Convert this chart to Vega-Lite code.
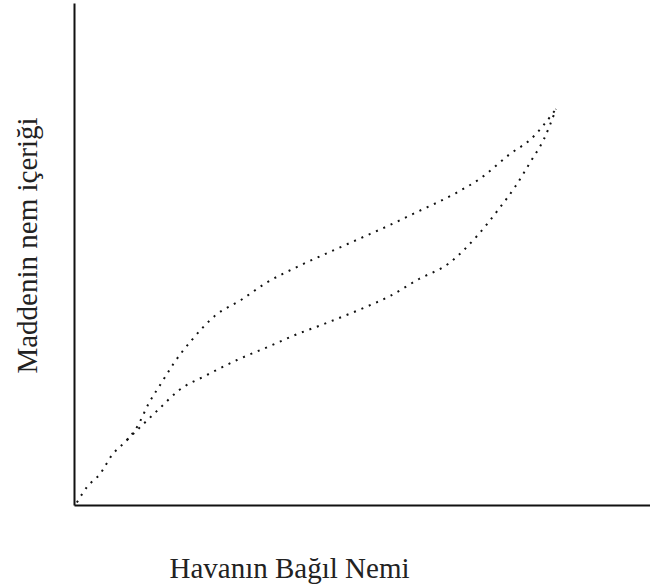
{
  "$schema": "https://vega.github.io/schema/vega-lite/v6.json",
  "width": 576,
  "height": 502,
  "autosize": "none",
  "padding": {"left": 74, "top": 3, "right": 0, "bottom": 82},
  "background": "white",
  "config": {"view": {"stroke": null}},
  "data": {
    "values": [
      {"branch": "upper", "o": 0, "x": 0.5, "y": 0.5},
      {"branch": "upper", "o": 1, "x": 2.26, "y": 3.59},
      {"branch": "upper", "o": 2, "x": 4.51, "y": 6.18},
      {"branch": "upper", "o": 3, "x": 6.6, "y": 9.96},
      {"branch": "upper", "o": 4, "x": 9.2, "y": 12.95},
      {"branch": "upper", "o": 5, "x": 10.94, "y": 15.54},
      {"branch": "upper", "o": 6, "x": 13.02, "y": 20.32},
      {"branch": "upper", "o": 7, "x": 15.28, "y": 24.5},
      {"branch": "upper", "o": 8, "x": 17.36, "y": 28.29},
      {"branch": "upper", "o": 9, "x": 20.31, "y": 32.67},
      {"branch": "upper", "o": 10, "x": 24.65, "y": 37.85},
      {"branch": "upper", "o": 11, "x": 28.99, "y": 40.84},
      {"branch": "upper", "o": 12, "x": 33.33, "y": 44.22},
      {"branch": "upper", "o": 13, "x": 39.06, "y": 47.61},
      {"branch": "upper", "o": 14, "x": 44.79, "y": 50.6},
      {"branch": "upper", "o": 15, "x": 49.83, "y": 53.19},
      {"branch": "upper", "o": 16, "x": 54.86, "y": 55.78},
      {"branch": "upper", "o": 17, "x": 59.2, "y": 58.17},
      {"branch": "upper", "o": 18, "x": 66.32, "y": 62.15},
      {"branch": "upper", "o": 19, "x": 70.66, "y": 65.14},
      {"branch": "upper", "o": 20, "x": 75.69, "y": 69.92},
      {"branch": "upper", "o": 21, "x": 79.34, "y": 72.91},
      {"branch": "upper", "o": 22, "x": 83.68, "y": 78.88},
      {"branch": "lower", "o": 0, "x": 9.2, "y": 12.95},
      {"branch": "lower", "o": 1, "x": 14.93, "y": 19.32},
      {"branch": "lower", "o": 2, "x": 18.06, "y": 22.71},
      {"branch": "lower", "o": 3, "x": 23.09, "y": 25.9},
      {"branch": "lower", "o": 4, "x": 28.3, "y": 28.88},
      {"branch": "lower", "o": 5, "x": 34.03, "y": 31.67},
      {"branch": "lower", "o": 6, "x": 38.37, "y": 33.86},
      {"branch": "lower", "o": 7, "x": 43.4, "y": 36.06},
      {"branch": "lower", "o": 8, "x": 49.83, "y": 39.04},
      {"branch": "lower", "o": 9, "x": 54.86, "y": 41.63},
      {"branch": "lower", "o": 10, "x": 59.9, "y": 45.02},
      {"branch": "lower", "o": 11, "x": 64.93, "y": 48.01},
      {"branch": "lower", "o": 12, "x": 69.97, "y": 53.59},
      {"branch": "lower", "o": 13, "x": 73.61, "y": 58.76},
      {"branch": "lower", "o": 14, "x": 76.56, "y": 63.35},
      {"branch": "lower", "o": 15, "x": 79.34, "y": 68.53},
      {"branch": "lower", "o": 16, "x": 81.6, "y": 72.91},
      {"branch": "lower", "o": 17, "x": 83.68, "y": 78.88}
    ]
  },
  "mark": {"type": "line", "color": "#111", "strokeWidth": 2, "strokeDash": [2, 6], "interpolate": "monotone"},
  "encoding": {
    "x": {
      "field": "x", "type": "quantitative",
      "scale": {"domain": [0, 100], "nice": false, "zero": false},
      "axis": {
        "title": "Havanın Bağıl Nemi",
        "labels": false, "ticks": false, "grid": false,
        "domainColor": "#111", "domainWidth": 2,
        "titleFont": "Liberation Serif", "titleFontSize": 29, "titleFontWeight": "normal",
        "titleColor": "#222", "titleX": 215, "titleY": 72, "titleAlign": "center", "titleBaseline": "alphabetic"
      }
    },
    "y": {
      "field": "y", "type": "quantitative",
      "scale": {"domain": [0, 100], "nice": false, "zero": false},
      "axis": {
        "title": "Maddenin nem içeriği",
        "labels": false, "ticks": false, "grid": false,
        "domainColor": "#111", "domainWidth": 2,
        "titleFont": "Liberation Serif", "titleFontSize": 29, "titleFontWeight": "normal",
        "titleColor": "#222", "titleX": -38, "titleY": 242, "titleAlign": "center", "titleBaseline": "alphabetic", "titleAngle": -90
      }
    },
    "detail": {"field": "branch"},
    "order": {"field": "o", "type": "quantitative"}
  }
}
